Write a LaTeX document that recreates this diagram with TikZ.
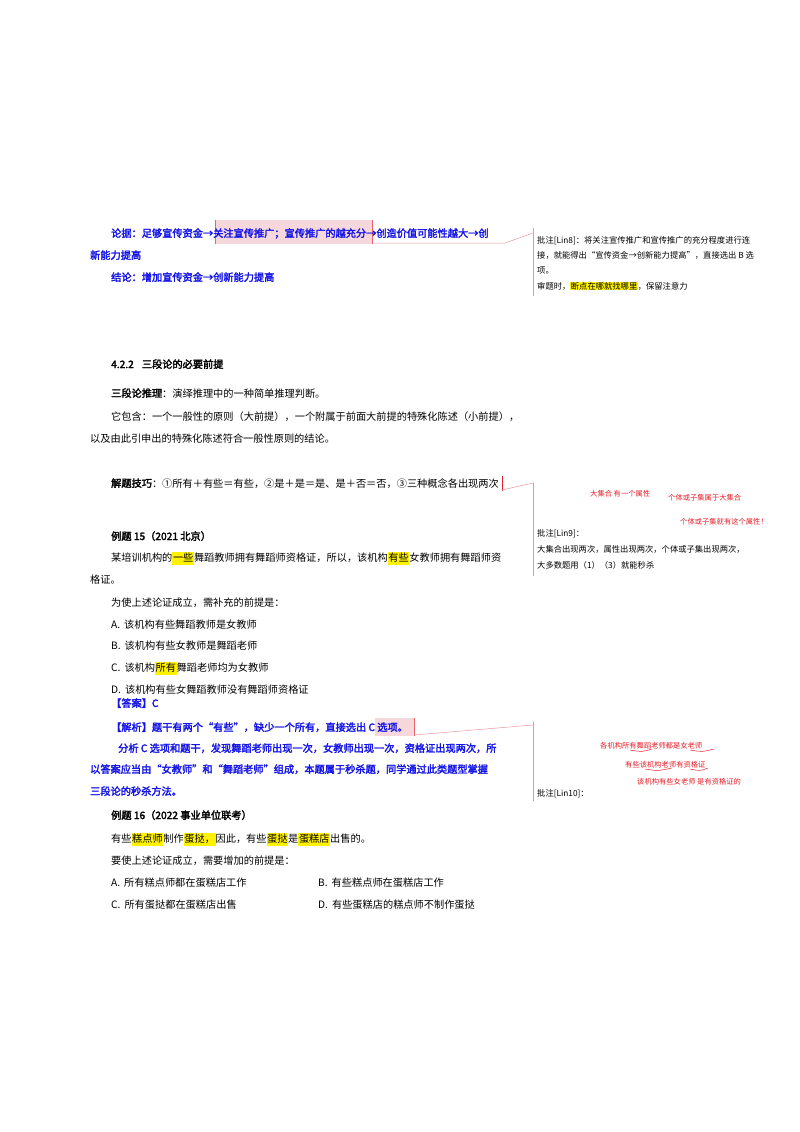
\documentclass[tikz,border=0pt]{standalone}
\usepackage{fontspec}
\setmainfont{Noto Sans CJK SC}[AutoFakeBold=2.5]
\definecolor{bl}{RGB}{20,20,230}
\definecolor{pk}{RGB}{230,150,160}
\definecolor{hlp}{RGB}{245,215,220}
\definecolor{rd}{RGB}{230,30,40}
\newcommand{\hy}[1]{{\setlength{\fboxsep}{0.6pt}\colorbox{yellow}{\strut #1}}}
\begin{document}
\begin{tikzpicture}[x=1pt,y=-1pt,
  t/.style={anchor=base west,inner sep=0pt,font=\fontsize{10.2}{12}\selectfont},
  tb/.style={t,font=\fontsize{10.2}{12}\selectfont\bfseries},
  bt/.style={t,text=bl,font=\fontsize{10.2}{12}\selectfont\bfseries},
  c/.style={anchor=base west,inner sep=0pt,font=\fontsize{8.3}{10}\selectfont},
  rn/.style={anchor=base west,inner sep=0pt,text=rd,font=\fontsize{7.3}{8}\selectfont},
  lk/.style={pk,line width=0.5pt},
  bar/.style={pk,line width=0.8pt}]
\useasboundingbox (0,0) rectangle (800,1132);
% --- top
\fill[hlp] (215,220) rectangle (372,244);
\draw[rd!70,line width=0.6pt] (215,220)--(215,244) (372,220)--(372,244);
\node[bt] (l1) at (111,237) {论据：足够宣传资金→关注宣传推广；宣传推广的越充分→创造价值可能性越大→创};
\node[bt] (l2) at (90,259) {新能力提高};
\node[bt] (l3) at (111,281) {结论：增加宣传资金→创新能力提高};
\coordinate (a1) at (372,243); \coordinate (a2) at (505,243); \coordinate (a3) at (533,233);
\draw[lk] (a1)--(a2)--(a3);
\draw[bar] (533,228)--(533,296);
\node[c] (c1) at (537,243) {批注[Lin8]：将关注宣传推广和宣传推广的充分程度进行连};
\node[c] (c2) at (537,258) {接，就能得出“宣传资金→创新能力提高”，直接选出 B 选};
\node[c] (c3) at (537,273) {项。};
\node[c] (c4) at (537,289) {审题时，{\setlength{\fboxsep}{0.5pt}\colorbox{yellow}{断点在哪就找哪里}}，保留注意力};
% --- section
\node[tb] (h) at (111,368) {4.2.2\hspace{8pt}三段论的必要前提};
\node[t] (p1) at (111,397) {\textbf{三段论推理}：演绎推理中的一种简单推理判断。};
\node[t] (p2) at (111,420) {它包含：一个一般性的原则（大前提），一个附属于前面大前提的特殊化陈述（小前提），};
\node[t] (p3) at (90,442) {以及由此引申出的特殊化陈述符合一般性原则的结论。};
\node[t] (p4) at (111,487) {\textbf{解题技巧}：①所有＋有些＝有些，②是＋是＝是、是＋否＝否，③三种概念各出现两次};
\draw[rd,line width=0.6pt] (502,476)--(502,491);
\coordinate (b1) at (502,490); \coordinate (b2) at (533,483);
\draw[lk] (b1)--(b2);
\draw[bar] (533,483)--(533,576);
\node[rn] (r1) at (590,496) {大集合 有一个属性};
\node[rn] (r2) at (668,500) {个体或子集属于大集合};
\node[rn] (r3) at (680,524) {个体或子集就有这个属性！};
\node[c] (c5) at (537,536) {批注[Lin9]：};
\node[c] (c6) at (537,552) {大集合出现两次，属性出现两次，个体或子集出现两次，};
\node[c] (c7) at (537,568) {大多数题用（1）（3）就能秒杀};
% --- example 15
\node[tb] (e1) at (111,540) {例题 15（2021 北京）};
\node[t] (e2) at (111,561) {某培训机构的\hy{一些}舞蹈教师拥有舞蹈师资格证，所以，该机构\hy{有些}女教师拥有舞蹈师资};
\node[t] (e3) at (90,583) {格证。};
\node[t] (e4) at (111,606) {为使上述论证成立，需补充的前提是：};
\node[t] (e5) at (111,628) {A.\hspace{4pt}该机构有些舞蹈教师是女教师};
\node[t] (e6) at (111,649) {B.\hspace{4pt}该机构有些女教师是舞蹈老师};
\node[t] (e7) at (111,671) {C.\hspace{4pt}该机构\hy{所有}舞蹈老师均为女教师};
\node[t] (e8) at (111,693) {D.\hspace{4pt}该机构有些女舞蹈教师没有舞蹈师资格证};
\node[bt] (e9) at (111,707) {【答案】C};
\fill[hlp] (375,718) rectangle (414,736);
\draw[rd!70,line width=0.6pt] (414,718)--(414,736);
\node[bt] (e10) at (111,731) {【解析】题干有两个“有些”，缺少一个所有，直接选出 C 选项。};
\node[bt] (e11) at (118,752) {分析 C 选项和题干，发现舞蹈老师出现一次，女教师出现一次，资格证出现两次，所};
\node[bt] (e12) at (90,773) {以答案应当由“女教师”和“舞蹈老师”组成，本题属于秒杀题，同学通过此类题型掌握};
\node[bt] (e13) at (90,795) {三段论的秒杀方法。};
\coordinate (d1) at (414,735); \coordinate (d2) at (533,725);
\draw[lk] (d1)--(d2);
\draw[bar] (533,722)--(533,801);
\node[rn] (r4) at (600,748) {各机构所有舞蹈老师都是女老师};
\draw[rd,line width=0.5pt] (630,750) .. controls (642,752) .. (652,749) (690,750) .. controls (702,752) .. (714,749);
\node[rn] (r5) at (625,767) {有些该机构老师有资格证};
\draw[rd,line width=0.5pt] (645,769) .. controls (658,771) .. (672,768) (690,769) .. controls (700,771) .. (708,768);
\node[rn] (r6) at (637,784) {该机构有些女老师 是有资格证的};
\node[c] (c8) at (537,796) {批注[Lin10]：};
% --- example 16
\node[tb] (f1) at (111,819) {例题 16（2022 事业单位联考）};
\node[t] (f2) at (111,842) {有些\hy{糕点师}制作\hy{蛋挞，}因此，有些\hy{蛋挞}是\hy{蛋糕店}出售的。};
\node[t] (f3) at (111,864) {要使上述论证成立，需要增加的前提是：};
\node[t] (f4) at (111,886) {A.\hspace{4pt}所有糕点师都在蛋糕店工作};
\node[t] (f5) at (318,886) {B.\hspace{4pt}有些糕点师在蛋糕店工作};
\node[t] (f6) at (111,908) {C.\hspace{4pt}所有蛋挞都在蛋糕店出售};
\node[t] (f7) at (318,908) {D.\hspace{4pt}有些蛋糕店的糕点师不制作蛋挞};
\end{tikzpicture}
\end{document}
